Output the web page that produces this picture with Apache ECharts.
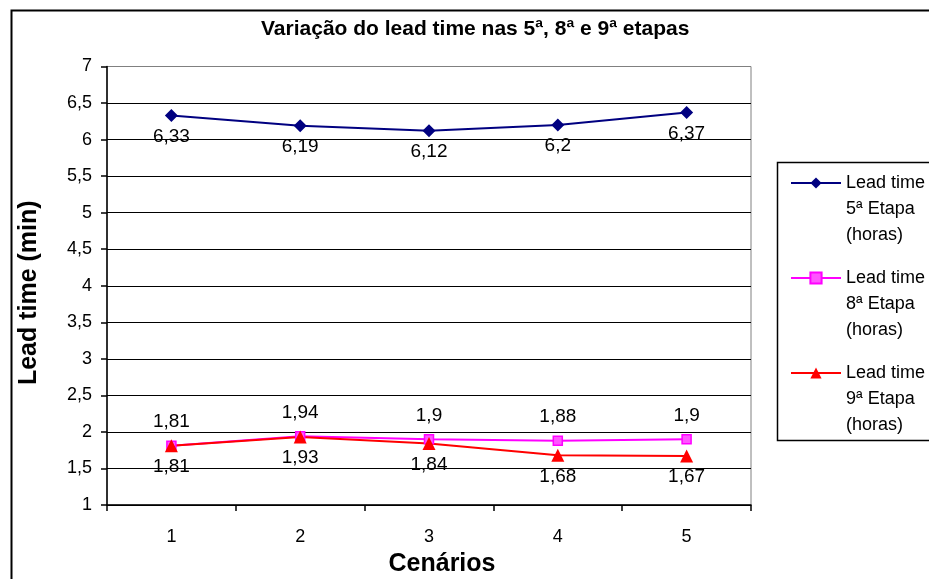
<!DOCTYPE html>
<html>
<head>
<meta charset="utf-8">
<script src="https://cdn.jsdelivr.net/npm/echarts@6/dist/echarts.min.js"></script>
<style>
html,body{margin:0;padding:0;background:#fff;}
#c{width:929px;height:579px;}
</style>
</head>
<body>
<div id="c"></div>
<script>
const categories = ['1', '2', '3', '4', '5'];
const seriesNames = [
  'Lead time\n5ª Etapa\n(horas)',
  'Lead time\n8ª Etapa\n(horas)',
  'Lead time\n9ª Etapa\n(horas)'
];
const etapa5 = [6.33, 6.19, 6.12, 6.2, 6.37];
const etapa8 = [1.81, 1.94, 1.9, 1.88, 1.9];
const etapa9 = [1.81, 1.93, 1.84, 1.68, 1.67];
const yTicks = [1, 7, 0.5]; // min, max, interval

const FONT = 'Liberation Sans, Arial, sans-serif';
const fmt = v => String(v).replace('.', ',');

const chart = echarts.init(document.getElementById('c'), null, {renderer: 'canvas'});

const gridColors = [];
for (let i = 0; i < 12; i++) gridColors.push('#000000');
gridColors.push('#808080');

const labelStyle = (pos, dist) => ({
  show: true,
  position: pos,
  distance: dist,
  color: '#000',
  fontFamily: FONT,
  fontSize: 19,
  formatter: p => fmt(p.value)
});

chart.setOption({
  animation: false,
  backgroundColor: '#ffffff',
  title: {
    text: 'Variação do lead time nas 5ª, 8ª e 9ª etapas',
    left: 261,
    top: 19,
    padding: 0,
    textStyle: {fontFamily: FONT, fontSize: 21, fontWeight: 'bold', color: '#000'}
  },
  grid: {
    left: 107, top: 66.5, right: 178, bottom: 74,
    containLabel: false,
    outerBoundsMode: 'none',
    show: true, borderColor: '#808080', borderWidth: 1, backgroundColor: '#fff'
  },
  legend: {
    orient: 'vertical',
    left: 790,
    top: 118,
    padding: 0,
    itemWidth: 50,
    itemHeight: 14,
    itemGap: -35,
    selectedMode: false,
    formatter: name => '\n\n' + name,
    textStyle: {
      fontFamily: FONT, fontSize: 18, color: '#000', lineHeight: 26
    },
    data: seriesNames
  },
  graphic: [
    {type: 'rect', shape: {x: 11.5, y: 10.5, width: 940, height: 600}, style: {fill: null, stroke: '#000', lineWidth: 2}, silent: true, z: -10},
    {type: 'rect', shape: {x: 777.5, y: 162.5, width: 200, height: 278}, style: {fill: null, stroke: '#000', lineWidth: 1.5}, silent: true}
  ],
  xAxis: {
    type: 'category',
    data: categories,
    boundaryGap: true,
    name: 'Cenários',
    nameLocation: 'middle',
    nameGap: 47,
    nameTextStyle: {fontFamily: FONT, fontSize: 25, fontWeight: 'bold', color: '#000', padding: [0, 0, 0, 26]},
    axisLine: {lineStyle: {color: '#000', width: 1.5}},
    axisTick: {show: true, alignWithLabel: false, length: 6, lineStyle: {color: '#000', width: 1.5}},
    axisLabel: {margin: 23, fontFamily: FONT, fontSize: 18, color: '#000'},
    splitLine: {show: false}
  },
  yAxis: {
    type: 'value',
    min: yTicks[0],
    max: yTicks[1],
    interval: yTicks[2],
    name: 'Lead time (min)',
    nameLocation: 'middle',
    nameGap: 65,
    nameRotate: 90,
    nameTextStyle: {fontFamily: FONT, fontSize: 25, fontWeight: 'bold', color: '#000', padding: [0, 14, 0, 0]},
    axisLine: {show: true, lineStyle: {color: '#000', width: 1.5}},
    axisTick: {show: true, length: 6, lineStyle: {color: '#000', width: 1.5}},
    axisLabel: {margin: 15, fontFamily: FONT, fontSize: 18, color: '#000', formatter: v => fmt(v)},
    splitLine: {show: true, lineStyle: {color: gridColors, width: 1.2}}
  },
  series: [
    {
      name: seriesNames[0], type: 'line', data: etapa5,
      symbol: 'diamond', symbolSize: 13,
      lineStyle: {color: '#000080', width: 2},
      itemStyle: {color: '#000080'},
      label: labelStyle('bottom', 5)
    },
    {
      name: seriesNames[1], type: 'line', data: etapa8,
      symbol: 'rect', symbolSize: 9,
      lineStyle: {color: '#ff00ff', width: 2},
      itemStyle: {color: '#ff55ff', borderColor: '#ff00ff', borderWidth: 1.5},
      label: labelStyle('top', 9)
    },
    {
      name: seriesNames[2], type: 'line', data: etapa9,
      symbol: 'triangle', symbolSize: 13,
      lineStyle: {color: '#ff0000', width: 2},
      itemStyle: {color: '#ff0000'},
      label: labelStyle('bottom', 5)
    }
  ]
});
</script>
</body>
</html>
